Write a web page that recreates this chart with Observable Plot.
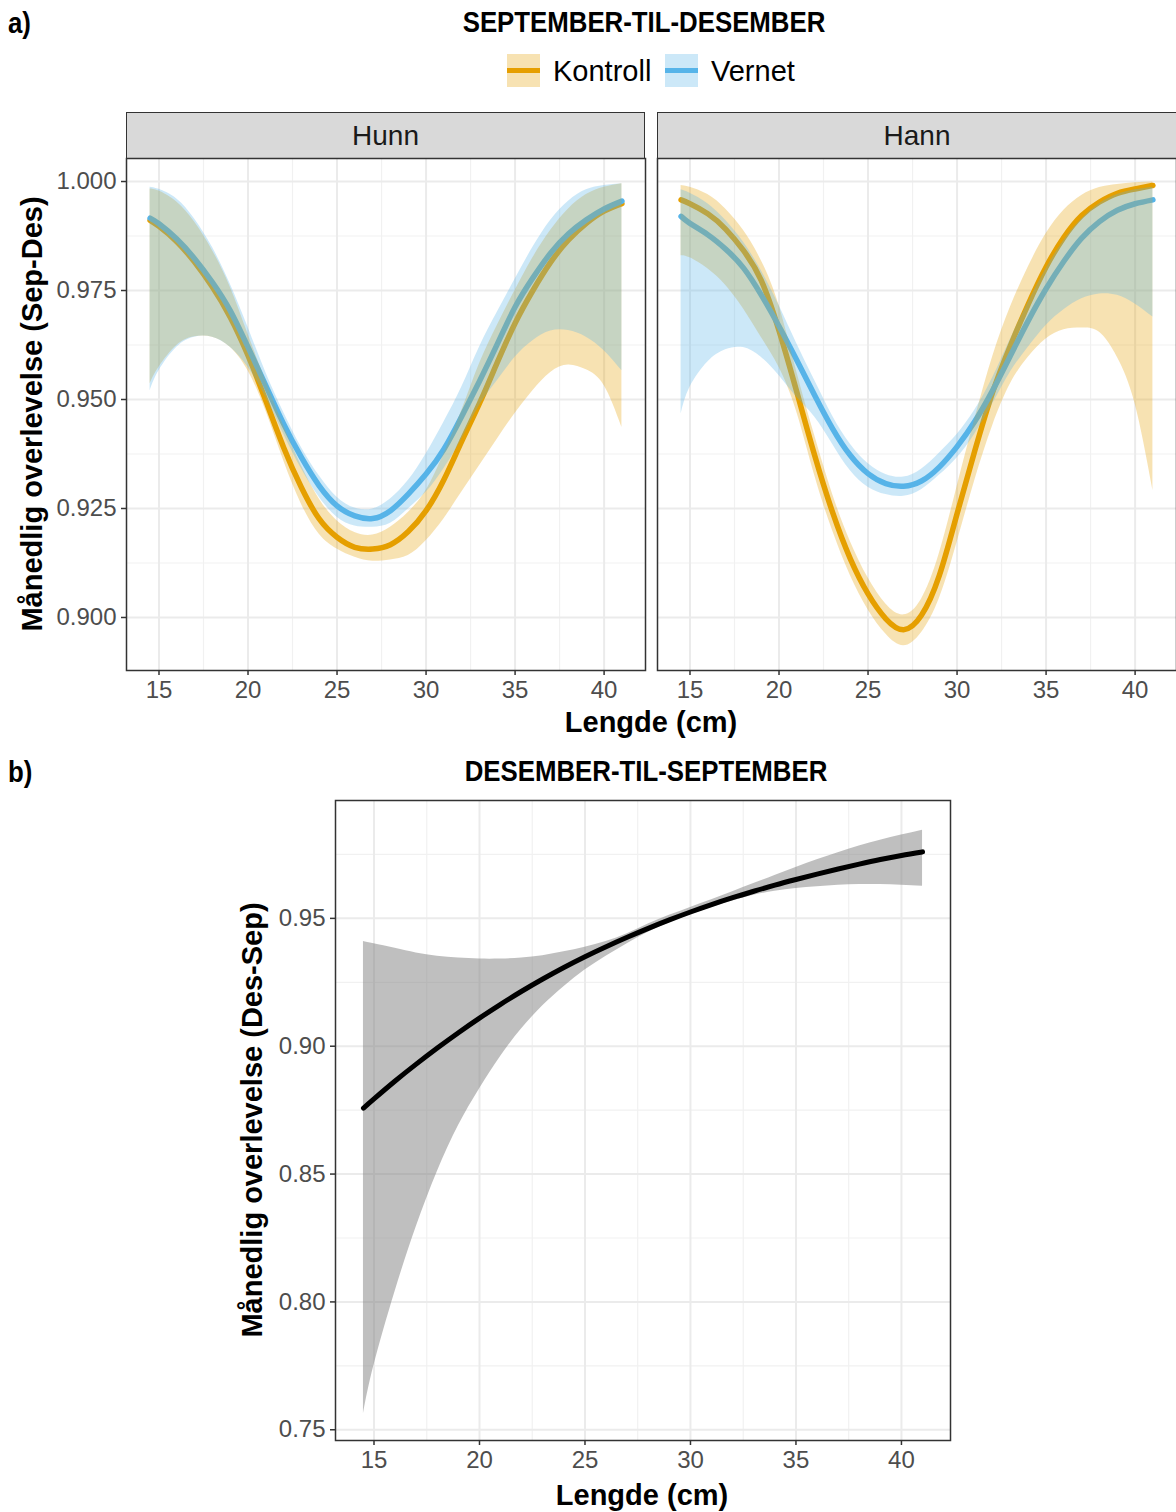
<!DOCTYPE html>
<html>
<head>
<meta charset="utf-8">
<script src="https://cdn.jsdelivr.net/npm/d3@7"></script>
<script src="https://cdn.jsdelivr.net/npm/@observablehq/plot@0.6"></script>
<style>
  body { margin: 0; background: #fff; }
  #root { position: relative; width: 1176px; height: 1512px; overflow: hidden; background: #fff;
          font-family: "Liberation Sans", Arial, sans-serif; }
  .abs { position: absolute; white-space: nowrap; line-height: 1; }
  .c { transform: translate(-50%, -50%); }
  .lab { font-weight: bold; font-size: 29px; color: #000; }
  .ttl { font-family: "Liberation Sans", Arial, sans-serif; font-weight: bold; font-size: 30px; color: #000; }
  .strip { position: absolute; box-sizing: border-box; background: #D9D9D9; border: 1.5px solid #333;
           display: flex; align-items: center; justify-content: center; font-size: 28px; color: #1A1A1A; }
  .key { position: absolute; width: 33px; height: 33px; }
  .key > div { position: absolute; left: 0; right: 0; top: 14px; height: 5px; }
  .plot { position: absolute; }
</style>
</head>
<body>
<div id="root"></div>
<script>
// ---------- data ----------
const lengths = [14.5, 15, 16, 17, 18, 19, 20, 21, 22, 23, 24, 25, 26, 27, 28, 29, 30, 31, 32, 33, 34, 35, 36, 37, 38, 39, 40, 41];

// September-til-desember, Hunn
const hunnKontroll   = [0.9911, 0.9897, 0.9862, 0.9815, 0.9758, 0.9689, 0.9601, 0.9497, 0.9390, 0.9298, 0.9226, 0.9184, 0.9161, 0.9157, 0.9167, 0.9197, 0.9245, 0.9316, 0.9404, 0.9491, 0.9585, 0.9675, 0.9750, 0.9815, 0.9866, 0.9904, 0.9932, 0.9949];
const hunnKontrollLo = [0.9536, 0.9574, 0.9624, 0.9644, 0.9643, 0.9620, 0.9566, 0.9474, 0.9360, 0.9260, 0.9191, 0.9157, 0.9138, 0.9129, 0.9132, 0.9142, 0.9176, 0.9226, 0.9287, 0.9348, 0.9409, 0.9468, 0.9520, 0.9562, 0.9579, 0.9568, 0.9532, 0.9436];
const hunnKontrollHi = [0.9983, 0.9978, 0.9953, 0.9907, 0.9842, 0.9758, 0.9650, 0.9543, 0.9440, 0.9348, 0.9272, 0.9222, 0.9195, 0.9189, 0.9207, 0.9241, 0.9291, 0.9375, 0.9474, 0.9582, 0.9670, 0.9750, 0.9825, 0.9888, 0.9937, 0.9970, 0.9987, 0.9995];
const hunnVernet     = [0.9916, 0.9903, 0.9868, 0.9823, 0.9769, 0.9704, 0.9620, 0.9532, 0.9444, 0.9367, 0.9302, 0.9256, 0.9233, 0.9227, 0.9245, 0.9283, 0.9329, 0.9386, 0.9461, 0.9542, 0.9627, 0.9712, 0.9779, 0.9836, 0.9880, 0.9912, 0.9937, 0.9955];
const hunnVernetLo   = [0.9520, 0.9566, 0.9620, 0.9643, 0.9643, 0.9620, 0.9574, 0.9505, 0.9421, 0.9341, 0.9276, 0.9230, 0.9210, 0.9207, 0.9216, 0.9249, 0.9287, 0.9341, 0.9409, 0.9486, 0.9543, 0.9597, 0.9635, 0.9657, 0.9658, 0.9643, 0.9612, 0.9566];
const hunnVernetHi   = [0.9987, 0.9982, 0.9960, 0.9914, 0.9849, 0.9765, 0.9666, 0.9562, 0.9471, 0.9390, 0.9325, 0.9276, 0.9251, 0.9249, 0.9272, 0.9314, 0.9375, 0.9448, 0.9528, 0.9620, 0.9700, 0.9776, 0.9849, 0.9911, 0.9955, 0.9981, 0.9991, 0.9995];

// September-til-desember, Hann
const hannKontroll   = [0.9958, 0.9949, 0.9926, 0.9891, 0.9842, 0.9773, 0.9658, 0.9517, 0.9372, 0.9242, 0.9135, 0.9054, 0.8997, 0.8972, 0.9005, 0.9096, 0.9238, 0.9383, 0.9517, 0.9624, 0.9719, 0.9804, 0.9872, 0.9922, 0.9953, 0.9973, 0.9983, 0.9991];
const hannKontrollLo = [0.9830, 0.9825, 0.9800, 0.9762, 0.9708, 0.9643, 0.9574, 0.9471, 0.9326, 0.9200, 0.9097, 0.9018, 0.8962, 0.8935, 0.8965, 0.9043, 0.9172, 0.9315, 0.9440, 0.9536, 0.9597, 0.9639, 0.9660, 0.9664, 0.9654, 0.9597, 0.9490, 0.9291];
const hannKontrollHi = [0.9991, 0.9987, 0.9970, 0.9937, 0.9888, 0.9819, 0.9716, 0.9563, 0.9418, 0.9284, 0.9175, 0.9091, 0.9031, 0.9006, 0.9042, 0.9146, 0.9300, 0.9455, 0.9598, 0.9712, 0.9804, 0.9880, 0.9934, 0.9968, 0.9986, 0.9993, 0.9997, 0.9999];
const hannVernet     = [0.9920, 0.9904, 0.9878, 0.9845, 0.9802, 0.9740, 0.9668, 0.9590, 0.9510, 0.9434, 0.9372, 0.9330, 0.9307, 0.9301, 0.9313, 0.9345, 0.9392, 0.9450, 0.9521, 0.9601, 0.9681, 0.9754, 0.9817, 0.9870, 0.9908, 0.9934, 0.9949, 0.9958];
const hannVernetLo   = [0.9467, 0.9528, 0.9586, 0.9614, 0.9619, 0.9597, 0.9555, 0.9505, 0.9460, 0.9398, 0.9337, 0.9299, 0.9282, 0.9278, 0.9293, 0.9326, 0.9366, 0.9421, 0.9490, 0.9563, 0.9620, 0.9670, 0.9706, 0.9731, 0.9742, 0.9739, 0.9719, 0.9689];
const hannVernetHi   = [0.9981, 0.9973, 0.9949, 0.9911, 0.9861, 0.9796, 0.9716, 0.9628, 0.9544, 0.9463, 0.9398, 0.9353, 0.9328, 0.9322, 0.9340, 0.9377, 0.9420, 0.9476, 0.9550, 0.9639, 0.9723, 0.9800, 0.9865, 0.9914, 0.9949, 0.9970, 0.9981, 0.9987];

// Desember-til-september
const desSep   = [0.8758, 0.8794, 0.8864, 0.8930, 0.8993, 0.9053, 0.9110, 0.9164, 0.9215, 0.9263, 0.9308, 0.9350, 0.9389, 0.9426, 0.9461, 0.9494, 0.9525, 0.9554, 0.9581, 0.9606, 0.9630, 0.9652, 0.9673, 0.9693, 0.9712, 0.9730, 0.9746, 0.9760];
const desSepLo = [0.7563, 0.7752, 0.8041, 0.8293, 0.8509, 0.8689, 0.8833, 0.8960, 0.9068, 0.9158, 0.9233, 0.9298, 0.9352, 0.9401, 0.9446, 0.9483, 0.9515, 0.9543, 0.9568, 0.9590, 0.9606, 0.9617, 0.9624, 0.9630, 0.9632, 0.9632, 0.9630, 0.9626];
const desSepHi = [0.9410, 0.9401, 0.9383, 0.9365, 0.9352, 0.9345, 0.9341, 0.9341, 0.9345, 0.9354, 0.9369, 0.9387, 0.9410, 0.9440, 0.9478, 0.9512, 0.9543, 0.9573, 0.9604, 0.9636, 0.9668, 0.9699, 0.9729, 0.9757, 0.9783, 0.9806, 0.9826, 0.9845];

const xTicks = [15, 20, 25, 30, 35, 40];
const xMinor = [17.5, 22.5, 27.5, 32.5, 37.5];
const yTicksA = [0.900, 0.925, 0.950, 0.975, 1.000];
const yMinorA = [0.9125, 0.9375, 0.9625, 0.9875];
const yTicksB = [0.75, 0.80, 0.85, 0.90, 0.95];
const yMinorB = [0.775, 0.825, 0.875, 0.925, 0.975];
const groups = ["Kontroll", "Vernet"];
const groupColors = ["#E69F00", "#56B4E9"];
const facets = ["Hunn", "Hann"];

// ---------- helpers ----------
const rows = (fit, lo, hi) => lengths.map((l, i) => ({ l, fit: fit[i], lo: lo[i], hi: hi[i] }));
const root = document.getElementById("root");
function add(html) { root.insertAdjacentHTML("beforeend", html); }

const xDomain = [13.175, 42.325];
const yDomainA = [0.88784, 1.00528];
const yDomainB = [0.7458, 0.9961];
const FONT = "'Liberation Sans', Arial, sans-serif";

function grids(yMajor, yMinor) {
  return [
    Plot.gridX(xMinor, { stroke: "#F1F1F1", strokeOpacity: 1, strokeWidth: 1.2 }),
    Plot.gridY(yMinor, { stroke: "#F1F1F1", strokeOpacity: 1, strokeWidth: 1.2 }),
    Plot.gridX(xTicks, { stroke: "#EBEBEB", strokeOpacity: 1, strokeWidth: 2 }),
    Plot.gridY(yMajor, { stroke: "#EBEBEB", strokeOpacity: 1, strokeWidth: 2 })
  ];
}
function axes(yMajor, fmt, showY) {
  const m = [
    Plot.axisX(xTicks, { tickSize: 5, tickPadding: 5, fontSize: 24, stroke: "#333", strokeWidth: 1.5, fill: "#4D4D4D", label: null, tickFormat: d => String(d) })
  ];
  if (showY) m.push(Plot.axisY(yMajor, { tickSize: 5, tickPadding: 5, fontSize: 24, stroke: "#333", strokeWidth: 1.5, fill: "#4D4D4D", label: null, tickFormat: fmt }));
  return m;
}

function panelA(kRows, vRows, showY, width, mLeft, mRight) {
  return Plot.plot({
    width, height: 560,
    marginTop: 2, marginBottom: 46, marginLeft: mLeft, marginRight: mRight,
    style: { fontFamily: FONT, background: "transparent", overflow: "visible" },
    x: { domain: xDomain, axis: null },
    y: { domain: yDomainA, axis: null },
    marks: [
      ...grids(yTicksA, yMinorA),
      Plot.lineY(kRows, { x: "l", y: "fit", stroke: groupColors[0], strokeWidth: 5.5, curve: "natural" }),
      Plot.lineY(vRows, { x: "l", y: "fit", stroke: groupColors[1], strokeWidth: 5.5, curve: "natural" }),
      Plot.areaY(kRows, { x: "l", y1: "lo", y2: "hi", fill: groupColors[0], fillOpacity: 0.3, curve: "natural" }),
      Plot.areaY(vRows, { x: "l", y1: "lo", y2: "hi", fill: groupColors[1], fillOpacity: 0.3, curve: "natural" }),
      Plot.frame({ stroke: "#333", strokeWidth: 1.5 }),
      ...axes(yTicksA, d3.format(".3f"), showY)
    ]
  });
}

const TT = "transform:translate(-50%,-50%) scaleX(0.86);";

// ---------- part a ----------
add(`<div class="abs ttl" style="left:8px;top:8px;transform-origin:0 0;transform:scaleX(0.86);">a)</div>`);
add(`<div class="abs ttl" style="left:644px;top:22px;${TT}">SEPTEMBER-TIL-DESEMBER</div>`);
// legend
add(`<div class="key" style="left:507px;top:54px;background:rgba(230,159,0,0.3)"><div style="background:${groupColors[0]}"></div></div>`);
add(`<div class="abs" style="left:553px;top:57px;font-size:29px;color:#000;">${groups[0]}</div>`);
add(`<div class="key" style="left:665px;top:54px;background:rgba(86,180,233,0.3)"><div style="background:${groupColors[1]}"></div></div>`);
add(`<div class="abs" style="left:711px;top:57px;font-size:29px;color:#000;">${groups[1]}</div>`);

// strips
add(`<div class="strip" style="left:126px;top:112px;width:519px;height:47px;">${facets[0]}</div>`);
add(`<div class="strip" style="left:657px;top:112px;width:520px;height:47px;">${facets[1]}</div>`);

const pHunn = panelA(rows(hunnKontroll, hunnKontrollLo, hunnKontrollHi), rows(hunnVernet, hunnVernetLo, hunnVernetHi), true, 647, 126, 2);
pHunn.classList.add("plot"); pHunn.style.left = "0px"; pHunn.style.top = "156px";
root.appendChild(pHunn);

const pHann = panelA(rows(hannKontroll, hannKontrollLo, hannKontrollHi), rows(hannVernet, hannVernetLo, hannVernetHi), false, 522, 2, 1);
pHann.classList.add("plot"); pHann.style.left = "655px"; pHann.style.top = "156px";
root.appendChild(pHann);

add(`<div class="abs lab" style="left:32px;top:414px;transform:translate(-50%,-50%) rotate(-90deg);">Månedlig overlevelse (Sep-Des)</div>`);
add(`<div class="abs lab c" style="left:651px;top:722px;">Lengde (cm)</div>`);

// ---------- part b ----------
add(`<div class="abs ttl" style="left:8px;top:757px;transform-origin:0 0;transform:scaleX(0.86);">b)</div>`);
add(`<div class="abs ttl" style="left:646px;top:771px;${TT}">DESEMBER-TIL-SEPTEMBER</div>`);

const bRows = rows(desSep, desSepLo, desSepHi);
const pB = Plot.plot({
  width: 952, height: 688,
  marginTop: 2, marginBottom: 46, marginLeft: 335, marginRight: 2,
  style: { fontFamily: FONT, background: "transparent", overflow: "visible" },
  x: { domain: xDomain, axis: null },
  y: { domain: yDomainB, axis: null },
  marks: [
    ...grids(yTicksB, yMinorB),
    Plot.areaY(bRows, { x: "l", y1: "lo", y2: "hi", fill: "#7F7F7F", fillOpacity: 0.5, curve: "natural" }),
    Plot.lineY(bRows, { x: "l", y: "fit", stroke: "#000", strokeWidth: 5, curve: "natural" }),
    Plot.frame({ stroke: "#333", strokeWidth: 1.5 }),
    ...axes(yTicksB, d3.format(".2f"), true)
  ]
});
pB.classList.add("plot"); pB.style.left = "0px"; pB.style.top = "798px";
root.appendChild(pB);

add(`<div class="abs lab" style="left:252px;top:1120px;transform:translate(-50%,-50%) rotate(-90deg);">Månedlig overlevelse (Des-Sep)</div>`);
add(`<div class="abs lab c" style="left:642px;top:1495px;">Lengde (cm)</div>`);
</script>
</body>
</html>
